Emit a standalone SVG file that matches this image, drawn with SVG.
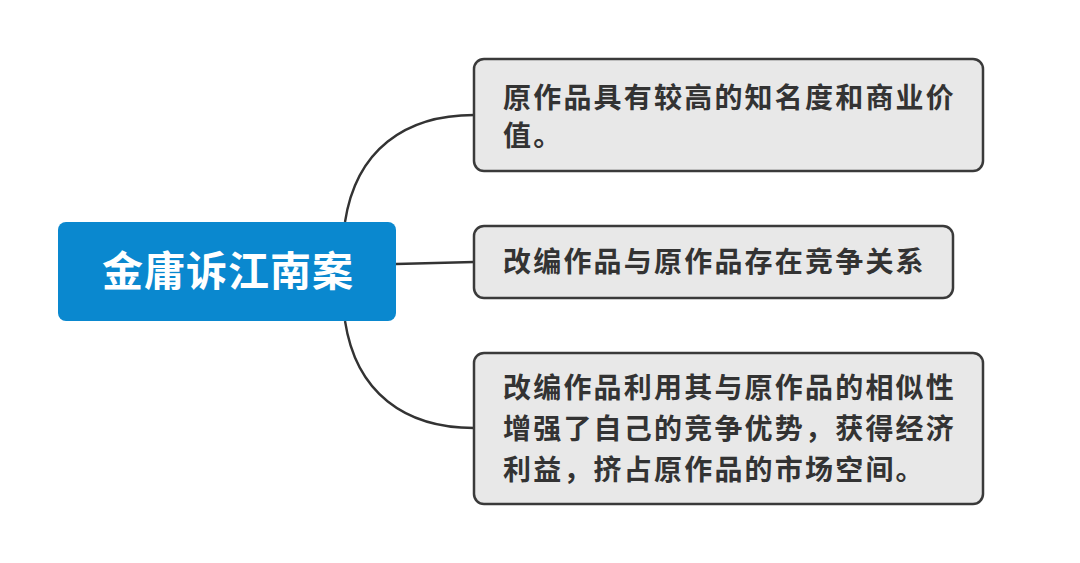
<svg xmlns="http://www.w3.org/2000/svg" width="1080" height="563" viewBox="0 0 1080 563">
<style>
.conn{fill:none;stroke:#333;stroke-width:2.4}
.box{fill:#e8e8e8;stroke:#3a3a3a;stroke-width:2.5}
.t{font-family:"Noto Sans CJK SC","Noto Sans",sans-serif;font-size:28px;font-weight:bold;fill:#333;letter-spacing:2.2px}
.root{font-family:"Noto Sans CJK SC","Noto Sans",sans-serif;font-size:41px;font-weight:bold;fill:#fff;text-anchor:middle;letter-spacing:1px}
</style>
<rect width="1080" height="563" fill="#fff"/>
<g id="connectors">
<path class="conn" d="M345,222 C356,150 405,115 474,115"/>
<path class="conn" d="M396,264 L474,262"/>
<path class="conn" d="M345,321 C356,393 405,428 474,428"/>
</g>
<g id="root">
<rect x="58" y="222" width="338" height="99" rx="8" fill="#0a88cf"/>
<text class="root" x="228" y="286">金庸诉江南案</text>
</g>
<g id="node1">
<rect class="box" x="474" y="59" width="509" height="112" rx="10"/>
<text class="t" x="503" y="108">原作品具有较高的知名度和商业价</text>
<text class="t" x="503" y="146">值。</text>
</g>
<g id="node2">
<rect class="box" x="474" y="226" width="479" height="72" rx="10"/>
<text class="t" x="503" y="272">改编作品与原作品存在竞争关系</text>
</g>
<g id="node3">
<rect class="box" x="474" y="353" width="509" height="151" rx="10"/>
<text class="t" x="503" y="398">改编作品利用其与原作品的相似性</text>
<text class="t" x="503" y="439">增强了自己的竞争优势，获得经济</text>
<text class="t" x="503" y="480">利益，挤占原作品的市场空间。</text>
</g>
</svg>
